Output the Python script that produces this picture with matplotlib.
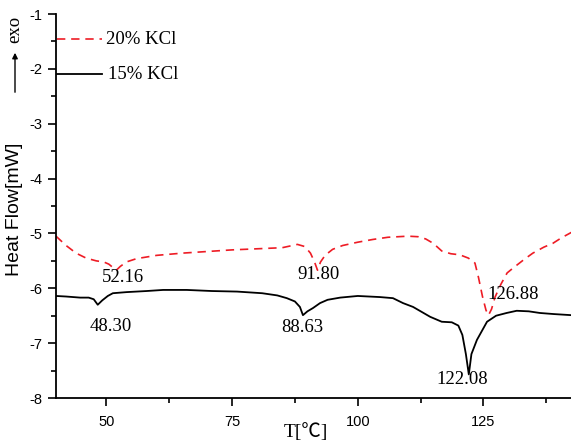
import numpy as np
import matplotlib.pyplot as plt

plt.rcParams['axes.unicode_minus'] = False

# 20% KCl curve (dashed red)
t20 = [40, 42, 44, 46, 48, 49.5, 50.5, 51.3, 52.0, 52.8, 54, 56, 60, 65, 70, 75, 80, 85,
       88, 89.5, 90.6, 91.4, 92.0, 92.6, 93.5, 95, 97, 100, 103, 106, 110, 112, 113.5,
       115, 116.7, 118.5, 120.3, 122, 123.3, 124.0, 124.8, 125.5, 126.0, 126.6, 127.3,
       128.5, 129.7, 130.9, 133, 134.8, 137, 138.8, 140.5, 142.5]
hf20 = [-5.05, -5.22, -5.36, -5.45, -5.5, -5.52, -5.56, -5.62, -5.67, -5.6, -5.52, -5.46,
        -5.40, -5.36, -5.33, -5.30, -5.28, -5.26, -5.20, -5.24, -5.36, -5.52, -5.67, -5.52,
        -5.40, -5.29, -5.22, -5.16, -5.11, -5.07, -5.05, -5.06, -5.10, -5.18, -5.32, -5.37,
        -5.39, -5.45, -5.54, -5.80, -6.15, -6.40, -6.49, -6.38, -6.16, -5.92, -5.72, -5.63,
        -5.48, -5.36, -5.25, -5.18, -5.08, -4.98]

# 15% KCl curve (solid black)
t15 = [40, 42, 44.8, 46.5, 47.5, 48.3, 49.2, 50.3, 51.3, 54, 58, 61.3, 66, 71, 76, 81, 84,
       85.9, 87.5, 88.5, 89.1, 90, 91.1, 92.5, 94, 96.5, 100, 104.4, 107, 109, 111, 114.4,
       116.7, 118.7, 120.0, 120.8, 121.5, 122.08, 122.6, 123.7, 125.7, 127.5, 129.6, 131.6,
       134, 136.2, 139, 142.5]
hf15 = [-6.14, -6.15, -6.17, -6.17, -6.2, -6.3, -6.22, -6.14, -6.09, -6.07, -6.05, -6.03,
        -6.03, -6.05, -6.06, -6.09, -6.13, -6.18, -6.24, -6.34, -6.49, -6.42, -6.36, -6.27,
        -6.21, -6.17, -6.14, -6.16, -6.18, -6.27, -6.34, -6.52, -6.61, -6.62, -6.68, -6.85,
        -7.2, -7.57, -7.2, -6.94, -6.61, -6.50, -6.45, -6.41, -6.42, -6.45, -6.47, -6.49]

# peak labels: text, x, y
peak_txt = ['52.16', '91.80', '126.88', '48.30', '88.63', '122.08']
peak_x = [53.3, 92.1, 130.9, 50.9, 88.9, 120.7]
peak_y = [-5.81, -5.74, -6.12, -6.70, -6.72, -7.67]

red = '#ee1c25'
serif = 'Liberation Serif'
sans = 'Liberation Sans'

fig = plt.figure(figsize=(5.71, 4.44), dpi=100)
ax = fig.add_axes([56/571, 46/444, 515/571, 384/444])

ax.plot(t20, hf20, color=red, lw=1.2, dashes=(5, 3.5))
ax.plot(t15, hf15, color='k', lw=1.3)

for s, x, y in zip(peak_txt, peak_x, peak_y):
    ax.text(x, y, s, fontsize=13.5, family=serif, ha='center', va='center')

# legend drawn by hand, like the original
ax.plot([40.2, 49.2], [-1.455, -1.455], color=red, lw=1.2, dashes=(5, 3.5), clip_on=False)
ax.plot([40.2, 49.2], [-2.09, -2.09], color='k', lw=1.3, clip_on=False)
ax.text(49.9, -1.47, '20% KCl', fontsize=13.5, family=serif, va='center')
ax.text(50.3, -2.11, '15% KCl', fontsize=13.5, family=serif, va='center')

ax.set_xlim(40, 142.4)
ax.set_ylim(-8, -1)
ax.set_xticks([50, 75, 100, 125])
ax.set_xticks(np.arange(62.5, 142, 25), minor=True)
ax.set_yticks(np.arange(-8, -0.5, 1))
ax.set_yticks(np.arange(-7.5, -1, 1), minor=True)
for lab in ax.get_xticklabels() + ax.get_yticklabels():
    lab.set_family(sans)
    lab.set_fontsize(10.5)
ax.tick_params(which='major', direction='out', length=6, width=1.2)
ax.tick_params(which='minor', direction='out', length=3.5, width=1.2)
ax.tick_params(axis='x', pad=6)
ax.spines['top'].set_visible(False)
ax.spines['right'].set_visible(False)
ax.spines['left'].set_linewidth(1.3)
ax.spines['bottom'].set_linewidth(1.3)

fig.text(306/571, 1 - 432/444, 'T[\u2103]', fontsize=14,
         family=[serif, 'Noto Sans CJK SC', 'DejaVu Sans'], ha='center', va='center')
fig.text(15/571, 1 - 209/444, 'Heat Flow[mW]', fontsize=14, family=sans,
         rotation=90, ha='center', va='center')

# exo arrow
fig.text(15/571, 1 - 29/444, 'exo', fontsize=13.5, family=serif, rotation=90,
         ha='center', va='center')
fig.add_artist(plt.matplotlib.patches.FancyArrowPatch(
    (15/571, 1 - 95/444), (15/571, 1 - 50/444), transform=fig.transFigure,
    arrowstyle='-|>', mutation_scale=8, color='k', lw=1))

fig.savefig('out.png', dpi=100)
